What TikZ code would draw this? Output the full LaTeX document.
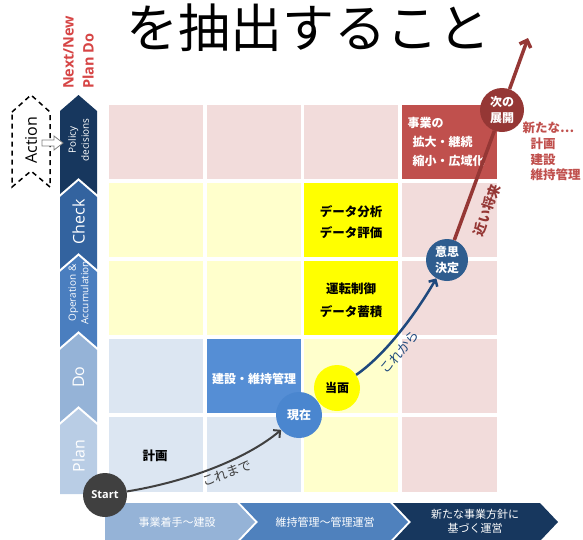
\documentclass[tikz,border=0pt]{standalone}
\usepackage{fontspec}
\setmainfont{Open Sans}
\newfontfamily\jp{Noto Sans CJK JP}
\usetikzlibrary{arrows.meta}
\definecolor{pinkc}{HTML}{F2DCDB}
\definecolor{redcell}{HTML}{C0504D}
\definecolor{lyel}{HTML}{FFFFCC}
\definecolor{yel}{HTML}{FFFF00}
\definecolor{lblue}{HTML}{DCE6F2}
\definecolor{mblue}{HTML}{558ED5}
\definecolor{chA}{HTML}{17375E}
\definecolor{chB}{HTML}{33639F}
\definecolor{chC}{HTML}{4A7EBF}
\definecolor{chD}{HTML}{95B3D7}
\definecolor{chE}{HTML}{B9CDE5}
\definecolor{botB}{HTML}{4F81BD}
\definecolor{startgray}{HTML}{404040}
\definecolor{genblue}{HTML}{4A86CF}
\definecolor{ishiblue}{HTML}{2F5D8F}
\definecolor{tsugired}{HTML}{953735}
\definecolor{nextred}{HTML}{D64545}
\definecolor{sidered}{HTML}{C0504D}
\definecolor{navyline}{HTML}{1F497D}
\tikzset{
  bubble/.style={circle, inner sep=0pt, align=center, font=\jp\bfseries\fontsize{12}{15}\selectfont},
  celltxt/.style={inner sep=0pt, align=center, font=\jp\bfseries\fontsize{12.5}{21}\selectfont},
  chevtxt/.style={rotate=90, text=white, align=center, inner sep=0pt},
  bottxt/.style={text=white, align=center, inner sep=0pt, font=\jp\fontsize{11}{14}\selectfont},
  curvelabel/.style={inner sep=0pt, font=\jp\fontsize{13}{13}\selectfont},
}
\begin{document}
\begin{tikzpicture}[x=1pt,y=-1pt]
\useasboundingbox (0,0) rectangle (583,539);
% title
\node[inner sep=0pt, font=\jp\fontsize{52}{60}\selectfont] (title) at (308,28) {を抽出すること};
% grid row 1
\fill[pinkc] (109,105) rectangle (203,179);
\fill[pinkc] (207,105) rectangle (301,179);
\fill[pinkc] (304,105) rectangle (398,179);
\fill[redcell] (402,105) rectangle (497,179);
% row 2
\fill[lyel] (109,183) rectangle (203,257);
\fill[lyel] (207,183) rectangle (301,257);
\fill[yel] (304,183) rectangle (398,257);
\fill[pinkc] (402,183) rectangle (497,257);
% row 3
\fill[lyel] (109,261) rectangle (203,335);
\fill[lyel] (207,261) rectangle (301,335);
\fill[yel] (304,261) rectangle (398,335);
\fill[pinkc] (402,261) rectangle (497,335);
% row 4
\fill[lblue] (109,339) rectangle (203,413);
\fill[mblue] (207,339) rectangle (301,413);
\fill[lyel] (304,339) rectangle (398,413);
\fill[pinkc] (402,339) rectangle (497,413);
% row 5
\fill[lblue] (109,417) rectangle (203,492);
\fill[lblue] (207,417) rectangle (301,492);
\fill[lyel] (304,417) rectangle (398,492);
\fill[pinkc] (402,417) rectangle (497,492);
% cell texts
\node[celltxt, text=white, align=left, font=\jp\bfseries\fontsize{12}{19}\selectfont] (expand) at (446,141.5) {事業の\\\hspace{5pt}拡大・継続\\\hspace{5pt}縮小・広域化};
\node[celltxt] (analysis) at (351,222) {データ分析\\データ評価};
\node[celltxt, font=\jp\bfseries\fontsize{12.5}{23}\selectfont] (control) at (351,300) {運転制御\\データ蓄積};
\node[celltxt, text=white, font=\jp\bfseries\fontsize{12}{14}\selectfont] (build) at (254,379) {建設・維持管理};
\node[celltxt] (plan) at (155,456) {計画};
\node[inner sep=0pt, align=left, text=sidered, font=\jp\bfseries\fontsize{12.5}{15.7}\selectfont] (newplan) at (551.5,151.5) {新たな…\\\hspace{8pt}計画\\\hspace{8pt}建設\\\hspace{8pt}維持管理};
% left chevrons
\fill[chA] (60,111) -- (78.5,95) -- (97,111) -- (97,194) -- (78.5,178) -- (60,194) -- cycle;
\fill[chB] (60,197) -- (78.5,181) -- (97,197) -- (97,269) -- (78.5,253) -- (60,269) -- cycle;
\fill[chC] (60,272) -- (78.5,256) -- (97,272) -- (97,347) -- (78.5,331) -- (60,347) -- cycle;
\fill[chD] (60,350) -- (78.5,334) -- (97,350) -- (97,422) -- (78.5,406) -- (60,422) -- cycle;
\fill[chE] (60,425) -- (78.5,409) -- (97,425) -- (97,494) -- (60,494) -- cycle;
\node[chevtxt, font=\fontsize{10}{13}\selectfont] (policy) at (78.5,140) {Policy\\decisions};
\node[chevtxt, font=\fontsize{16}{18}\selectfont] (check) at (78.5,222) {Check};
\node[chevtxt, font=\fontsize{10}{12.5}\selectfont] (oper) at (78.5,293) {Operation \&\\Accumulation};
\node[chevtxt, font=\fontsize{16}{18}\selectfont] (do) at (78.5,377) {Do};
\node[chevtxt, font=\fontsize{16}{18}\selectfont] (planlbl) at (78.5,456) {Plan};
% next/new
\node[rotate=90, anchor=west, align=left, inner sep=0pt, text=nextred, font=\bfseries\fontsize{14.5}{20}\selectfont] (nextnew) at (78.5,89) {Next/New\\Plan Do};
% action
\draw[line width=1.5pt, dash pattern=on 5pt off 4pt] (12,112) -- (31,95) -- (50,112) -- (50,187) -- (31,171) -- (12,187) -- cycle;
\node[rotate=90, inner sep=0pt, font=\fontsize{16}{18}\selectfont] (action) at (31,140) {Action};
\draw[gray, fill=white, line width=0.8pt] (42,140) -- (54,140) -- (54,136) -- (63,143) -- (54,150) -- (54,146) -- (42,146) -- cycle;
% bottom chevrons
\fill[chD] (105,503) -- (237,503) -- (255,522) -- (237,541) -- (105,541) -- cycle;
\fill[botB] (240,503) -- (390,503) -- (408,522) -- (390,541) -- (240,541) -- (258,522) -- cycle;
\fill[chA] (393,503) -- (540,503) -- (558,522) -- (540,541) -- (393,541) -- (411,522) -- cycle;
\node[bottxt] (b1) at (177,522) {事業着手～建設};
\node[bottxt] (b2) at (325,522) {維持管理～管理運営};
\node[bottxt] (b3) at (475,521) {新たな事業方針に\\基づく運営};
% bubbles
\node[bubble, fill=startgray, text=white, minimum size=44pt, font=\bfseries\fontsize{11}{13}\selectfont] (start) at (105,495) {Start};
\node[bubble, fill=genblue, text=white, minimum size=46pt] (genzai) at (299,415) {現在};
\node[bubble, fill=yel, text=black, minimum size=46pt] (toumen) at (337,388) {当面};
\node[bubble, fill=ishiblue, text=white, minimum size=42pt, font=\jp\bfseries\fontsize{12}{16}\selectfont] (ishi) at (447,260) {意思\\決定};
\node[bubble, fill=tsugired, text=white, minimum size=44pt, font=\jp\bfseries\fontsize{12}{16}\selectfont] (tsugi) at (502,110) {次の\\展開};
\coordinate (redtip) at (528,38);
% connectors
\draw[startgray, line width=2pt, -{Straight Barb[length=5pt,width=10pt]}] (start) .. controls (185,482) and (245,460) .. (genzai);
\draw[navyline, line width=2.5pt, -{Straight Barb[length=5pt,width=10pt]}] (toumen) .. controls (385,355) and (415,315) .. (ishi);
\draw[tsugired, line width=3.5pt] (ishi) -- (tsugi);
\draw[tsugired, line width=3.5pt, -{Straight Barb[length=6pt,width=12pt]}] (tsugi) -- (redtip);
% curve labels
\node[curvelabel, rotate=20, text=startgray] (koremade) at (227,473) {これまで};
\node[curvelabel, rotate=50, text=navyline] (korekara) at (400,352) {これから};
\node[curvelabel, rotate=70, text=tsugired, font=\jp\bfseries\fontsize{13.5}{14}\selectfont] (chikai) at (487,210) {近い将来};
\end{tikzpicture}
\end{document}
